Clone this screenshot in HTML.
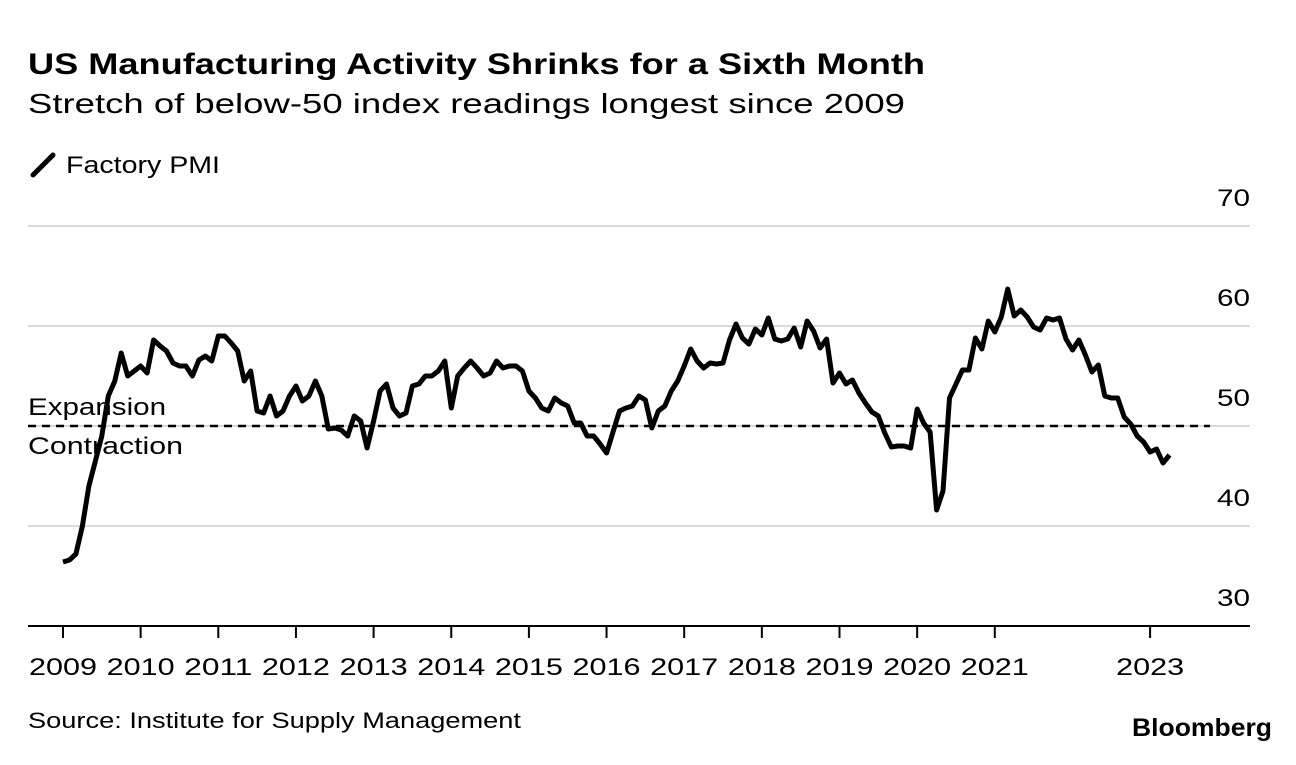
<!DOCTYPE html>
<html><head><meta charset="utf-8"><style>
body{margin:0;background:#fff;width:1296px;height:760px;overflow:hidden;font-family:"Liberation Sans",Arial,sans-serif;color:#000}
</style></head><body>
<svg width="1296" height="760" font-family="Liberation Sans, Arial, sans-serif">
<text x="28" y="74" font-size="30" font-weight="bold" textLength="897" lengthAdjust="spacingAndGlyphs">US Manufacturing Activity Shrinks for a Sixth Month</text>
<text x="28" y="113" font-size="28" textLength="877" lengthAdjust="spacingAndGlyphs">Stretch of below-50 index readings longest since 2009</text>
<g>
<line x1="33" y1="175" x2="53" y2="155" stroke="#000" stroke-width="5" stroke-linecap="round"/>
<text x="66" y="173" font-size="24" textLength="154" lengthAdjust="spacingAndGlyphs">Factory PMI</text>
</g>
<g id="grid"></g>
<g id="axis"></g>
<polyline id="line" fill="none" stroke="#000" stroke-width="5" stroke-linejoin="round"/>
<text x="28" y="415" font-size="24" textLength="138" lengthAdjust="spacingAndGlyphs">Expansion</text>
<text x="28" y="454" font-size="24" textLength="155" lengthAdjust="spacingAndGlyphs">Contraction</text>
<text x="28" y="728" font-size="22" textLength="493" lengthAdjust="spacingAndGlyphs">Source: Institute for Supply Management</text>
<text x="1132" y="736" font-size="25" font-weight="bold" textLength="140" lengthAdjust="spacingAndGlyphs">Bloomberg</text>
</svg>
<script>
const yTicks=[30,40,50,60,70];
const xYears=[2009,2010,2011,2012,2013,2014,2015,2016,2017,2018,2019,2020,2021,2023];
const pmi2009=[36.4,36.6,37.2,40,44,46.5,49,53,54.5,57.3,55,55.5];
const pmi2010=[56,55.3,58.6,58,57.5,56.3,56,56,55,56.6,57,56.5];
const pmi2011=[59,59,58.3,57.5,54.5,55.5,51.5,51.3,53,51,51.5,53];
const pmi2012=[54,52.5,53,54.5,53,49.7,49.8,49.6,49,51,50.5,47.8];
const pmi2013=[50.5,53.5,54.2,51.8,51,51.3,54,54.2,55,55,55.5,56.5];
const pmi2014=[51.8,55,55.8,56.5,55.8,55,55.3,56.5,55.8,56,56,55.5];
const pmi2015=[53.5,52.8,51.8,51.5,52.8,52.3,52,50.3,50.3,49,49,48.2];
const pmi2016=[47.3,49.4,51.5,51.8,52,53,52.6,49.8,51.5,52,53.5,54.5];
const pmi2017=[56,57.7,56.5,55.8,56.3,56.2,56.3,58.6,60.2,58.8,58.2,59.7];
const pmi2018=[59.1,60.8,58.7,58.5,58.7,59.8,57.9,60.5,59.5,57.8,58.7,54.3];
const pmi2019=[55.3,54.2,54.6,53.3,52.3,51.4,51,49.3,47.9,48,48,47.8];
const pmi2020=[51.7,50.3,49.4,41.6,43.5,52.8,54.2,55.6,55.6,58.8,57.7,60.5];
const pmi2021=[59.4,60.9,63.7,61,61.6,60.9,59.9,59.6,60.8,60.6,60.8,58.7];
const pmi2022=[57.6,58.6,57.1,55.4,56.1,53,52.8,52.8,50.9,50.2,49,48.4];
const pmi2023=[47.4,47.7,46.3,47.1];
const values=[].concat(pmi2009,pmi2010,pmi2011,pmi2012,pmi2013,pmi2014,pmi2015,pmi2016,pmi2017,pmi2018,pmi2019,pmi2020,pmi2021,pmi2022,pmi2023);
const NS="http://www.w3.org/2000/svg";
const y=v=>626-(v-30)*10;
const xm=i=>63+i*(77.65/12);
const xy=yr=>63+(yr-2009)*77.65;
const grid=document.getElementById('grid'),axis=document.getElementById('axis');
function mk(tag,attrs,parent){const e=document.createElementNS(NS,tag);for(const k in attrs)e.setAttribute(k,attrs[k]);parent.appendChild(e);return e;}
yTicks.forEach(t=>{
  if(t>30){const g=mk('line',{x1:28,x2:1250,y1:y(t),y2:y(t),stroke:'#d9d9d9','stroke-width':2},grid);
  
  }
  const l=mk('text',{x:1250,y:y(t)-20,'font-size':24,'text-anchor':'end',textLength:33,lengthAdjust:'spacingAndGlyphs'},grid);l.textContent=t;
  
  
});
const base=mk('line',{x1:28,x2:1250,y1:626,y2:626,stroke:'#000','stroke-width':2},axis);


const dash=mk('line',{x1:28,x2:1210,y1:y(50),y2:y(50),stroke:'#000','stroke-width':2.5,'stroke-dasharray':'8,6'},axis);


xYears.forEach(yr=>{
  const tk=mk('line',{x1:xy(yr),x2:xy(yr),y1:626,y2:638,stroke:'#000','stroke-width':2},axis);
  
  
  const t=mk('text',{x:xy(yr)-34,y:675,'font-size':24,textLength:68,lengthAdjust:'spacingAndGlyphs'},axis);t.textContent=yr;
  
  
});
document.getElementById('line').setAttribute('points',values.map((v,i)=>xm(i).toFixed(1)+','+y(v).toFixed(1)).join(' '));
</script>
</body></html>
